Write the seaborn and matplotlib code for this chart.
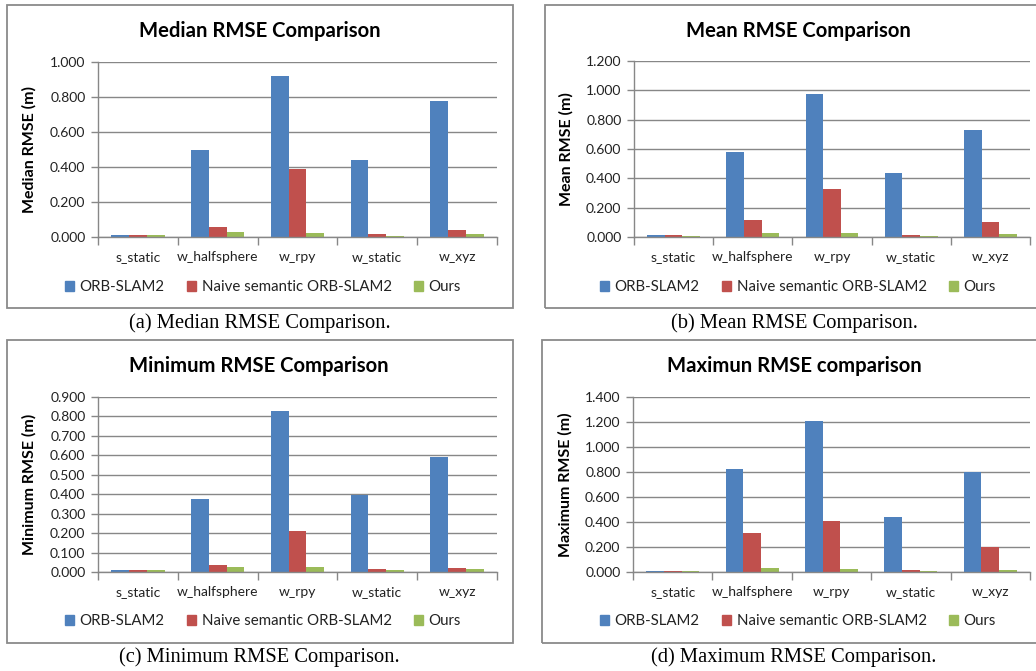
import matplotlib
matplotlib.use("Agg")
import matplotlib.pyplot as plt
from matplotlib.patches import Rectangle
from matplotlib.ticker import MultipleLocator, FormatStrFormatter, FixedLocator
import numpy as np
import pandas as pd
import seaborn as sns

# ---- data ----
sequences = ["s_static", "w_halfsphere", "w_rpy", "w_static", "w_xyz"]
methods = ["ORB-SLAM2", "Naive semantic ORB-SLAM2", "Ours"]
colors = ["#4F81BD", "#C0504D", "#9BBB59"]

median_orb = [0.013, 0.497, 0.920, 0.438, 0.775]
median_naive = [0.010, 0.055, 0.387, 0.017, 0.042]
median_ours = [0.009, 0.028, 0.025, 0.006, 0.017]

mean_orb = [0.013, 0.577, 0.976, 0.435, 0.727]
mean_naive = [0.012, 0.115, 0.326, 0.016, 0.100]
mean_ours = [0.010, 0.029, 0.029, 0.008, 0.020]

min_orb = [0.012, 0.377, 0.830, 0.394, 0.593]
min_naive = [0.011, 0.038, 0.209, 0.017, 0.022]
min_ours = [0.008, 0.024, 0.024, 0.008, 0.018]

max_orb = [0.011, 0.827, 1.208, 0.443, 0.800]
max_naive = [0.011, 0.309, 0.408, 0.016, 0.200]
max_ours = [0.010, 0.032, 0.027, 0.006, 0.016]

titles = ["Median RMSE Comparison", "Mean RMSE Comparison",
          "Minimum RMSE Comparison", "Maximun RMSE comparison"]
ylabels = ["Median RMSE (m)", "Mean RMSE (m)", "Minimum RMSE (m)", "Maximum RMSE (m)"]
captions = ["(a) Median RMSE Comparison.", "(b) Mean RMSE Comparison.",
            "(c) Minimum RMSE Comparison.", "(d) Maximum RMSE Comparison."]
ymax = [1.0, 1.2, 0.9, 1.4]
ystep = [0.2, 0.2, 0.1, 0.2]
series = [
    (median_orb, median_naive, median_ours),
    (mean_orb, mean_naive, mean_ours),
    (min_orb, min_naive, min_ours),
    (max_orb, max_naive, max_ours),
]

# ---- layout (pixel geometry) ----
W, H = 1036, 671
sns.set_theme(style="white")
plt.rcParams["font.family"] = ["Lato", "DejaVu Sans"]
GRID = "#878787"
TXT = "#222222"

fig = plt.figure(figsize=(W / 100, H / 100), dpi=100)
fig.patch.set_facecolor("white")


def fx(x):
    return x / W


def fy(y):
    return 1 - y / H


# axes rect (left, top, right, bottom) in px
axes_px = [(98, 62, 497, 237), (634, 61, 1030, 237),
           (98, 397, 497, 572), (633, 397, 1030, 572)]
# frame box (left, top, right, bottom) in px
box_px = [(7, 5, 513, 308), (545, 5, 1060, 308),
          (7, 340, 513, 643), (542, 340, 1060, 643)]
title_pos = [(260, 31), (798, 31), (259, 366), (794, 366)]
legend_pos = [(263, 287), (798, 287), (263, 621), (798, 621)]
caption_pos = [(260, 323), (794, 323), (259, 657), (794, 657)]

for i in range(4):
    bl, bt, br, bb = box_px[i]
    fig.patches.append(Rectangle((fx(bl), fy(bb)), fx(br - bl), (bb - bt) / H,
                                 transform=fig.transFigure, fill=False,
                                 edgecolor="#8a8a8a", lw=1.3))

    l, t, r, b = axes_px[i]
    ax = fig.add_axes([fx(l), fy(b), fx(r - l), (b - t) / H])
    orb, naive, ours = series[i]
    df = pd.DataFrame({
        "sequence": sequences * 3,
        "method": np.repeat(methods, len(sequences)),
        "rmse": list(orb) + list(naive) + list(ours),
    })
    sns.barplot(data=df, x="sequence", y="rmse", hue="method",
                hue_order=methods, order=sequences, palette=colors,
                saturation=1, width=0.667, ax=ax, legend=False,
                linewidth=0, errorbar=None)

    ax.set_xlim(-0.5, 4.5)
    ax.set_ylim(0, ymax[i])
    ax.yaxis.set_major_locator(MultipleLocator(ystep[i]))
    ax.yaxis.set_major_formatter(FormatStrFormatter("%.3f"))
    ax.grid(axis="y", color=GRID, lw=1.0)
    ax.set_axisbelow(True)
    for s in ["top", "right"]:
        ax.spines[s].set_visible(False)
    for s in ["left", "bottom"]:
        ax.spines[s].set_color(GRID)
        ax.spines[s].set_linewidth(1.0)
    ax.tick_params(axis="y", length=5, width=1.0, color=GRID, labelsize=10,
                   labelcolor=TXT, pad=4, left=True)
    ax.tick_params(axis="x", which="major", length=0, labelsize=10,
                   labelcolor=TXT, pad=10)
    ax.xaxis.set_minor_locator(FixedLocator(np.arange(-0.5, 5.0, 1.0)))
    ax.tick_params(axis="x", which="minor", length=6, width=1.0, color=GRID,
                   bottom=True)
    ax.set_xlabel("")
    ax.set_ylabel(ylabels[i], fontsize=11.5, fontweight="bold", color="black")
    ax.yaxis.set_label_coords(-0.153, 0.5)

    tx, ty = title_pos[i]
    fig.text(fx(tx), fy(ty), titles[i], ha="center", va="center",
             fontsize=14.6, fontweight="bold", color="black")

    handles = [Rectangle((0, 0), 1, 1, color=c) for c in colors]
    lx, ly = legend_pos[i]
    fig.legend(handles, methods, loc="center", bbox_to_anchor=(fx(lx), fy(ly)),
               ncol=3, frameon=False, fontsize=10.8, handlelength=0.62,
               handleheight=0.62, handletextpad=0.35, columnspacing=1.5,
               labelcolor=TXT)

    cx, cy = caption_pos[i]
    fig.text(fx(cx), fy(cy), captions[i], ha="center", va="center",
             fontsize=14.8, family=["Liberation Serif", "DejaVu Serif"],
             color="black")

fig.savefig("out.png", dpi=100, facecolor="white")
